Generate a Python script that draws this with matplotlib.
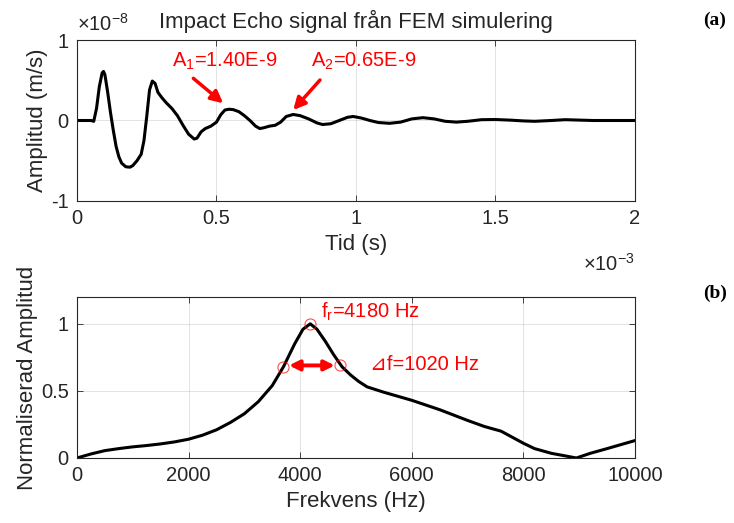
import matplotlib
matplotlib.use("Agg")
import matplotlib.pyplot as plt
from matplotlib.ticker import FuncFormatter, MultipleLocator
import numpy as np

plt.rcParams['font.family'] = ['Liberation Sans', 'DejaVu Sans']
plt.rcParams['mathtext.fontset'] = 'custom'
plt.rcParams['mathtext.rm'] = 'Liberation Sans'
plt.rcParams['mathtext.it'] = 'Liberation Sans:italic'

# ---- data: time signal (t in ms, amplitude in 1e-8 m/s) ----
t_ms = [0.00, 0.05, 0.06, 0.07, 0.08, 0.09, 0.095, 0.10, 0.11, 0.12, 0.13, 0.14, 0.15,
        0.16, 0.175, 0.19, 0.20, 0.215, 0.23, 0.24, 0.25, 0.26, 0.27, 0.28, 0.29,
        0.305, 0.32, 0.34, 0.36, 0.38, 0.40, 0.42, 0.43, 0.445, 0.46, 0.48, 0.50,
        0.515, 0.53, 0.545, 0.56, 0.58, 0.60, 0.62, 0.64, 0.655, 0.67, 0.69, 0.71,
        0.73, 0.75, 0.775, 0.80, 0.83, 0.86, 0.88, 0.91, 0.94, 0.97, 0.99, 1.02,
        1.05, 1.08, 1.12, 1.16, 1.20, 1.24, 1.28, 1.32, 1.36, 1.40, 1.45, 1.50,
        1.55, 1.60, 1.64, 1.70, 1.75, 1.80, 1.85, 1.90, 1.95, 2.00]
amp_e8 = [0.0, 0.0, -0.01, 0.15, 0.42, 0.59, 0.61, 0.57, 0.35, 0.10, -0.12, -0.32, -0.45,
          -0.53, -0.575, -0.58, -0.56, -0.50, -0.42, -0.25, 0.05, 0.38, 0.49, 0.46, 0.35,
          0.28, 0.22, 0.15, 0.06, -0.06, -0.17, -0.23, -0.22, -0.14, -0.10, -0.07, -0.02,
          0.07, 0.13, 0.14, 0.135, 0.11, 0.06, 0.0, -0.07, -0.10, -0.09, -0.07, -0.06,
          -0.02, 0.05, 0.075, 0.06, 0.02, -0.03, -0.05, -0.04, 0.0, 0.04, 0.05, 0.03,
          0.0, -0.025, -0.035, -0.02, 0.02, 0.035, 0.02, -0.01, -0.02, -0.01, 0.01, 0.012,
          0.005, -0.005, -0.01, 0.0, 0.01, 0.005, 0.0, 0.0, 0.0, 0.0]

# ---- data: normalised spectrum ----
freq = [0, 250, 500, 750, 1000, 1250, 1500, 1750, 2000, 2250, 2500, 2750, 3000, 3250,
        3500, 3700, 3900, 4050, 4180, 4300, 4450, 4600, 4750, 4900, 5050, 5200, 5500,
        6000, 6500, 7000, 7300, 7600, 7800, 8000, 8200, 8500, 8950, 9200, 9500, 9750, 10000]
spec = [0.0, 0.03, 0.055, 0.07, 0.083, 0.093, 0.105, 0.12, 0.14, 0.17, 0.21, 0.265, 0.33,
        0.42, 0.54, 0.68, 0.85, 0.96, 1.0, 0.96, 0.87, 0.77, 0.68, 0.62, 0.57, 0.53, 0.49,
        0.43, 0.36, 0.28, 0.235, 0.20, 0.155, 0.11, 0.07, 0.035, 0.0, 0.035, 0.07, 0.10, 0.13]

marker_f = [3700, 4180, 4720]
marker_a = [0.68, 1.0, 0.69]

A_labels = ["A$_\\mathregular{1}$=1.40E-9", "A$_\\mathregular{2}$=0.65E-9"]

fs = 14.5
fl = 16
dark = '#262626'

fig = plt.figure(figsize=(7.34, 5.23), dpi=100)
ax1 = fig.add_axes([0.1049, 0.6157, 0.7602, 0.3078])
ax2 = fig.add_axes([0.1049, 0.1243, 0.7602, 0.3078])

for ax in (ax1, ax2):
    ax.grid(True, color=dark, alpha=0.15, lw=0.6)
    ax.tick_params(direction='in', top=True, right=True, length=4, width=0.6,
                   colors=dark, labelsize=fs, pad=6)
    for s in ax.spines.values():
        s.set_color(dark)
        s.set_linewidth(0.8)
    ax.set_axisbelow(True)

arrow_kw = dict(arrowstyle='-|>', color='red', lw=2.5, mutation_scale=18,
                shrinkA=0, shrinkB=0)

# top
t = np.array(t_ms) * 1e-3
a = np.array(amp_e8) * 1e-8
ax1.plot(t, a, color='black', lw=2.2)
ax1.set_xlim(0, 2e-3)
ax1.set_ylim(-1e-8, 1e-8)
ax1.xaxis.set_major_locator(MultipleLocator(0.5e-3))
ax1.yaxis.set_major_locator(MultipleLocator(1e-8))
ax1.xaxis.set_major_formatter(FuncFormatter(lambda v, p: f"{v*1e3:g}"))
ax1.yaxis.set_major_formatter(FuncFormatter(lambda v, p: f"{v*1e8:g}"))
ax1.set_title("Impact Echo signal från FEM simulering", fontsize=fl, color=dark, pad=9)
ax1.set_xlabel("Tid (s)", fontsize=fl, color=dark, labelpad=4)
ax1.set_ylabel("Amplitud (m/s)", fontsize=fl, color=dark, labelpad=2)
ax1.text(0.0, 1.03, r"$\times$10$^{\mathregular{-8}}$", transform=ax1.transAxes,
         fontsize=fs, color=dark, ha='left', va='bottom')
ax1.text(1.0, -0.32, r"$\times$10$^{\mathregular{-3}}$", transform=ax1.transAxes,
         fontsize=fs, color=dark, ha='right', va='top')

ax1.text(0.339e-3, 0.73e-8, A_labels[0], color='red', fontsize=fs, va='center', ha='left')
ax1.annotate("", xy=(0.524e-3, 0.214e-8), xytext=(0.417e-3, 0.524e-8), arrowprops=arrow_kw)
ax1.text(0.838e-3, 0.73e-8, A_labels[1], color='red', fontsize=fs, va='center', ha='left')
ax1.annotate("", xy=(0.775e-3, 0.13e-8), xytext=(0.871e-3, 0.503e-8), arrowprops=arrow_kw)

# bottom
ax2.plot(freq, spec, color='black', lw=2.2)
ax2.set_xlim(0, 10000)
ax2.set_ylim(0, 1.2)
ax2.xaxis.set_major_locator(MultipleLocator(2000))
ax2.yaxis.set_major_locator(MultipleLocator(0.5))
ax2.yaxis.set_major_formatter(FuncFormatter(lambda v, p: f"{v:g}"))
ax2.set_xlabel("Frekvens (Hz)", fontsize=fl, color=dark, labelpad=4)
ax2.set_ylabel("Normaliserad Amplitud", fontsize=fl, color=dark, labelpad=2)
ax2.plot(marker_f, marker_a, 'o', mfc='none', mec='red', ms=8, mew=0.8, alpha=0.7)
ax2.annotate("", xy=(marker_f[0], 0.69), xytext=(marker_f[2], 0.69),
             arrowprops=dict(arrowstyle='<|-|>', color='red', lw=2.8, mutation_scale=15,
                             shrinkA=4, shrinkB=4))
ax2.text(4373, 1.09, "f$_\\mathregular{r}$=4180 Hz", color='red', fontsize=fs,
         ha='left', va='center')
ax2.text(5250, 0.695, "⊿f=1020 Hz", color='red', fontsize=fs, ha='left', va='center')

fig.text(715 / 734, 1 - 20 / 523, "(a)", fontsize=14, fontweight='bold',
         family='Liberation Serif', ha='center', va='center')
fig.text(715 / 734, 1 - 293 / 523, "(b)", fontsize=14, fontweight='bold',
         family='Liberation Serif', ha='center', va='center')

fig.savefig("out.png", dpi=100)
